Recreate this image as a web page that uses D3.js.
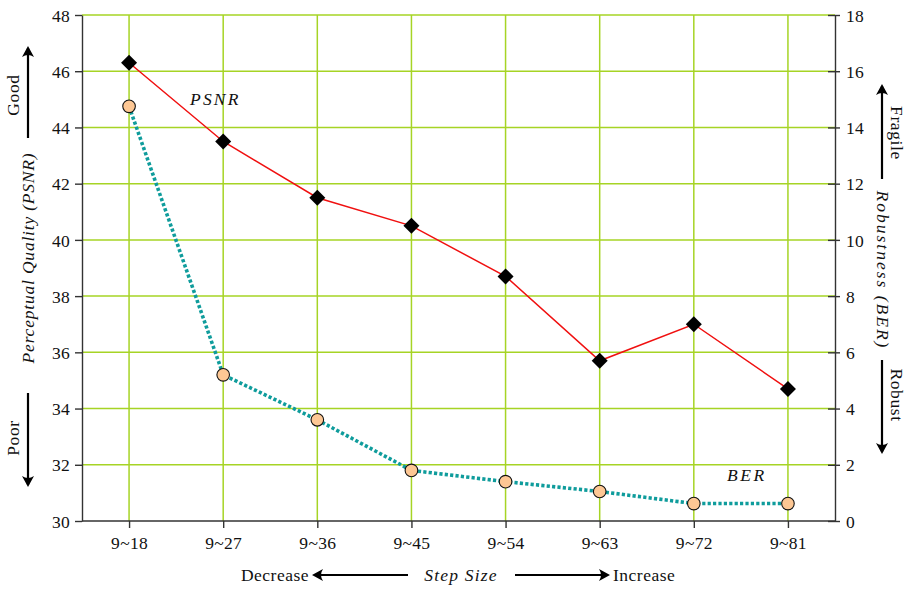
<!DOCTYPE html>
<html>
<head>
<meta charset="utf-8">
<script src="https://cdn.jsdelivr.net/npm/d3@7"></script>
</head>
<body style="margin:0;background:#fff">
<svg id="chart" width="911" height="589" style="display:block"></svg>
<script>
// Step-size ranges on the x axis
const categories = ["9~18", "9~27", "9~36", "9~45", "9~54", "9~63", "9~72", "9~81"];
// Perceptual quality (dB), left axis
const psnr = [46.3, 43.5, 41.5, 40.5, 38.7, 35.7, 37.0, 34.7];
// Bit error rate (%), right axis
const ber = [14.75, 5.2, 3.6, 1.8, 1.4, 1.05, 0.62, 0.62];
const leftTicks = [30, 32, 34, 36, 38, 40, 42, 44, 46, 48];
const rightTicks = [0, 2, 4, 6, 8, 10, 12, 14, 16, 18];

const svg = d3.select("#chart");
const m = { left: 82, right: 835, top: 15, bottom: 521 };

const x = d3.scalePoint().domain(categories).range([m.left, m.right]).padding(0.5);
const yL = d3.scaleLinear().domain([30, 48]).range([m.bottom, m.top]);
const yR = d3.scaleLinear().domain([0, 18]).range([m.bottom, m.top]);

const gridColor = "#a6d425";

// serif typography, applied with priority so nothing else overrides it
function serif(sel, spacing, italic) {
  sel.attr("font-family", "Liberation Serif").attr("fill", "#111").each(function (d) {
    const sp = typeof spacing === "function" ? spacing(d) : spacing;
    const it = typeof italic === "function" ? italic(d) : italic;
    this.style.setProperty("font-family", '"Liberation Serif", "Times New Roman", serif', "important");
    this.style.setProperty("font-size", "17.5px", "important");
    this.style.setProperty("letter-spacing", sp + "px", "important");
    this.style.setProperty("font-style", it ? "italic" : "normal", "important");
  });
  return sel;
}

// grid
const grid = svg.append("g");
grid.selectAll("line.h").data(leftTicks.slice(1)).join("line")
  .attr("x1", m.left).attr("x2", m.right)
  .attr("y1", d => yL(d)).attr("y2", d => yL(d))
  .attr("stroke", gridColor).attr("stroke-width", 1.5);
grid.selectAll("line.v").data(categories).join("line")
  .attr("x1", d => x(d)).attr("x2", d => x(d))
  .attr("y1", m.top).attr("y2", m.bottom)
  .attr("stroke", gridColor).attr("stroke-width", 1.5);

// axes
const axisStyle = g => {
  g.attr("font-family", "Liberation Serif").attr("font-size", 17.5);
  g.select(".domain").attr("stroke", "#333").attr("stroke-width", 1.4);
  g.selectAll(".tick line").attr("stroke", "#333").attr("stroke-width", 1.4);
  g.selectAll(".tick text").call(serif, 0.3, false);
};
svg.append("g").attr("transform", `translate(${m.left},0)`)
  .call(d3.axisLeft(yL).tickValues(leftTicks).tickSize(7).tickSizeOuter(0).tickPadding(5))
  .call(axisStyle)
  .call(g => g.selectAll(".tick text").attr("dy", "0.35em"));
svg.append("g").attr("transform", `translate(${m.right},0)`)
  .call(d3.axisRight(yR).tickValues(rightTicks).tickSize(5).tickSizeOuter(0).tickPadding(6))
  .call(axisStyle)
  .call(g => g.selectAll(".tick line").attr("x1", -7))
  .call(g => g.selectAll(".tick text").attr("dy", "0.35em"));
svg.append("g").attr("transform", `translate(0,${m.bottom})`)
  .call(d3.axisBottom(x).tickSize(7).tickSizeOuter(0).tickPadding(9))
  .call(axisStyle)
  .call(g => g.select(".domain").attr("d", `M${m.left},0H${m.right}`));

// BER line (dotted teal) with circles
svg.append("path").datum(ber)
  .attr("fill", "none").attr("stroke", "#0f9c9c").attr("stroke-width", 3.6)
  .attr("stroke-dasharray", "3.2,2.2")
  .attr("d", d3.line().x((d, i) => x(categories[i])).y(d => yR(d)));

// PSNR line (red) with diamonds
svg.append("path").datum(psnr)
  .attr("fill", "none").attr("stroke", "#f01010").attr("stroke-width", 1.5)
  .attr("d", d3.line().x((d, i) => x(categories[i])).y(d => yL(d)));

svg.append("g").selectAll("circle").data(ber).join("circle")
  .attr("cx", (d, i) => x(categories[i])).attr("cy", d => yR(d)).attr("r", 6.3)
  .attr("fill", "#fdc794").attr("stroke", "#111").attr("stroke-width", 1.1);

svg.append("g").selectAll("path").data(psnr).join("path")
  .attr("transform", (d, i) => `translate(${x(categories[i])},${yL(d)})`)
  .attr("d", "M0,-8L8,0L0,8L-8,0Z")
  .attr("fill", "#000");

// arrows
function arrow(x1, y1, x2, y2) {
  const a = Math.atan2(y2 - y1, x2 - x1) * 180 / Math.PI;
  const g = svg.append("g");
  g.append("line").attr("x1", x1).attr("y1", y1).attr("x2", x2).attr("y2", y2)
    .attr("stroke", "#000").attr("stroke-width", 2.2);
  g.append("path")
    .attr("transform", `translate(${x2},${y2}) rotate(${a})`)
    .attr("d", "M2,0 L-9,-6 Q-5,0 -9,6 Z")
    .attr("fill", "#000");
}
arrow(28, 138, 28, 48);
arrow(28, 393, 28, 485);
arrow(882, 179, 882, 86);
arrow(882, 360, 882, 452);
arrow(408, 575, 314, 575);
arrow(515, 575, 608, 575);

// free-standing labels: series names, axis titles and direction hints
const labels = [
  { t: "PSNR", x: 190, y: 105, rot: 0, anchor: "start", sp: 2.2, it: true },
  { t: "BER", x: 727, y: 481, rot: 0, anchor: "start", sp: 2.6, it: true },
  { t: "Perceptual Quality (PSNR)", x: 34, y: 258, rot: -90, anchor: "middle", sp: 0.8, it: true },
  { t: "Robustness (BER)", x: 877, y: 270, rot: 90, anchor: "middle", sp: 2.0, it: true },
  { t: "Good", x: 19, y: 95, rot: -90, anchor: "middle", sp: 0.6, it: false },
  { t: "Poor", x: 19, y: 438, rot: -90, anchor: "middle", sp: 0.6, it: false },
  { t: "Fragile", x: 891, y: 133, rot: 90, anchor: "middle", sp: 0.6, it: false },
  { t: "Robust", x: 891, y: 395, rot: 90, anchor: "middle", sp: 0.6, it: false },
  { t: "Decrease", x: 309, y: 581, rot: 0, anchor: "end", sp: 0.5, it: false },
  { t: "Step Size", x: 461, y: 581, rot: 0, anchor: "middle", sp: 1.2, it: true },
  { t: "Increase", x: 613, y: 581, rot: 0, anchor: "start", sp: 0.5, it: false }
];
svg.append("g").selectAll("text").data(labels).join("text")
  .attr("transform", d => `translate(${d.x},${d.y}) rotate(${d.rot})`)
  .attr("text-anchor", d => d.anchor)
  .text(d => d.t)
  .call(serif, d => d.sp, d => d.it);
</script>
</body>
</html>
